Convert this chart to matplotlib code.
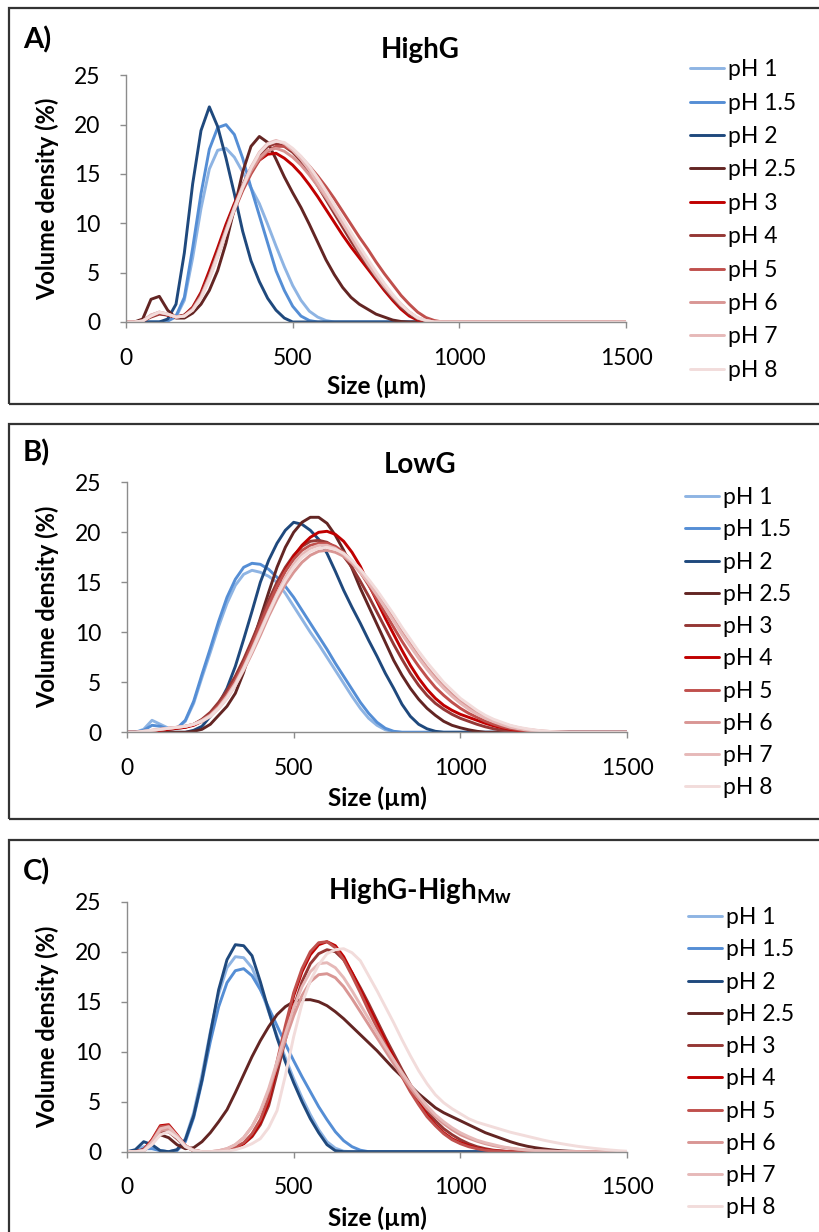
"""
Distribuicao de tamanho de particula (volume density) por pH
para tres amostras: HighG, LowG e HighG-High Mw.
Gera out.png
"""
import matplotlib
matplotlib.use("Agg")
import matplotlib.pyplot as plt
from matplotlib.patches import Rectangle

plt.rcParams["font.family"] = ["Lato", "DejaVu Sans"]
plt.rcParams["mathtext.fontset"] = "custom"
plt.rcParams["mathtext.rm"] = "Lato:bold"
plt.rcParams["mathtext.bf"] = "Lato:bold"

# grade de tamanho (um)
SIZE_UM = [0, 25, 50, 75, 100, 125, 150, 175, 200, 225,
           250, 275, 300, 325, 350, 375, 400, 425, 450, 475,
           500, 525, 550, 575, 600, 625, 650, 675, 700, 725,
           750, 775, 800, 825, 850, 875, 900, 925, 950, 975,
           1000, 1025, 1050, 1075, 1100, 1125, 1150, 1175, 1200, 1225,
           1250, 1275, 1300, 1325, 1350, 1375, 1400, 1425, 1450, 1475,
           1500]

PH_LABELS = ["pH 1", "pH 1.5", "pH 2", "pH 2.5", "pH 3",
             "pH 4", "pH 5", "pH 6", "pH 7", "pH 8"]

# cores (no painel A pH 3 e pH 4 estao trocados)
COLORS_A = ["#8EB4E3", "#558ED5", "#1F497D", "#632523", "#C00000",
            "#953735", "#C0504D", "#D99694", "#E6B9B8", "#F2DCDB"]
COLORS_BC = ["#8EB4E3", "#558ED5", "#1F497D", "#632523", "#953735",
             "#C00000", "#C0504D", "#D99694", "#E6B9B8", "#F2DCDB"]

# ---------------- A) HighG ----------------
A_PH1 = [0, 0, 0, 0, 0, 0.1, 0.5, 2.2, 6.5, 11.5,
         15.5, 17.4, 17.6, 16.7, 15.2, 13.6, 12.0, 9.9, 7.7, 5.6,
         3.7, 2.2, 1.1, 0.5, 0.15, 0, 0, 0, 0, 0,
         0, 0, 0, 0, 0, 0, 0, 0, 0, 0,
         0, 0, 0, 0, 0, 0, 0, 0, 0, 0,
         0, 0, 0, 0, 0, 0, 0, 0, 0, 0,
         0]
A_PH15 = [0, 0, 0, 0, 0, 0.1, 0.6, 2.5, 7.5, 13.0,
          17.5, 19.7, 20.0, 19.0, 16.6, 13.6, 10.8, 8.0, 5.2, 3.2,
          1.6, 0.6, 0.15, 0, 0, 0, 0, 0, 0, 0,
          0, 0, 0, 0, 0, 0, 0, 0, 0, 0,
          0, 0, 0, 0, 0, 0, 0, 0, 0, 0,
          0, 0, 0, 0, 0, 0, 0, 0, 0, 0,
          0]
A_PH2 = [0, 0, 0, 0, 0, 0.3, 1.8, 7.0, 14.0, 19.4,
         21.8, 19.8, 16.6, 13.0, 9.2, 6.2, 4.1, 2.4, 1.2, 0.4,
         0, 0, 0, 0, 0, 0, 0, 0, 0, 0,
         0, 0, 0, 0, 0, 0, 0, 0, 0, 0,
         0, 0, 0, 0, 0, 0, 0, 0, 0, 0,
         0, 0, 0, 0, 0, 0, 0, 0, 0, 0,
         0]
A_PH25 = [0, 0, 0.3, 2.3, 2.6, 1.2, 0.4, 0.4, 0.9, 1.8,
          3.2, 5.2, 8.0, 11.5, 15.2, 17.8, 18.8, 18.2, 16.5, 14.7,
          13.1, 11.6, 9.9, 8.1, 6.3, 4.8, 3.5, 2.5, 1.8, 1.3,
          0.8, 0.5, 0.2, 0.05, 0, 0, 0, 0, 0, 0,
          0, 0, 0, 0, 0, 0, 0, 0, 0, 0,
          0, 0, 0, 0, 0, 0, 0, 0, 0, 0,
          0]
A_PH3 = [0, 0, 0.1, 0.6, 0.9, 0.7, 0.5, 0.7, 1.5, 3.0,
         5.2, 7.5, 9.9, 12.0, 13.8, 15.3, 16.4, 17.0, 17.1, 16.6,
         15.9, 15.0, 13.9, 12.7, 11.4, 10.1, 8.8, 7.6, 6.5, 5.4,
         4.3, 3.2, 2.2, 1.3, 0.6, 0.2, 0.05, 0, 0, 0,
         0, 0, 0, 0, 0, 0, 0, 0, 0, 0,
         0, 0, 0, 0, 0, 0, 0, 0, 0, 0,
         0]
A_PH4 = [0, 0, 0.1, 0.5, 0.8, 0.7, 0.5, 0.7, 1.4, 2.8,
         4.8, 7.1, 9.5, 11.8, 13.9, 15.6, 16.9, 17.8, 18.1, 17.8,
         17.2, 16.3, 15.1, 13.8, 12.4, 11.0, 9.6, 8.2, 6.9, 5.7,
         4.5, 3.4, 2.4, 1.5, 0.8, 0.3, 0.1, 0, 0, 0,
         0, 0, 0, 0, 0, 0, 0, 0, 0, 0,
         0, 0, 0, 0, 0, 0, 0, 0, 0, 0,
         0]
A_PH5 = [0, 0, 0.1, 0.6, 0.9, 0.8, 0.5, 0.6, 1.3, 2.6,
         4.5, 6.7, 9.0, 11.3, 13.3, 15.0, 16.4, 17.3, 17.8, 17.8,
         17.4, 16.7, 15.8, 14.8, 13.7, 12.5, 11.2, 9.9, 8.6, 7.4,
         6.1, 4.9, 3.8, 2.7, 1.8, 1.0, 0.45, 0.15, 0, 0,
         0, 0, 0, 0, 0, 0, 0, 0, 0, 0,
         0, 0, 0, 0, 0, 0, 0, 0, 0, 0,
         0]
A_PH6 = [0, 0, 0.1, 0.7, 1.0, 0.8, 0.5, 0.6, 1.3, 2.6,
         4.6, 6.9, 9.3, 11.6, 13.6, 15.3, 16.6, 17.4, 17.6, 17.3,
         16.7, 15.9, 14.9, 13.8, 12.6, 11.3, 10.0, 8.7, 7.4, 6.2,
         5.0, 3.8, 2.7, 1.8, 1.0, 0.4, 0.15, 0, 0, 0,
         0, 0, 0, 0, 0, 0, 0, 0, 0, 0,
         0, 0, 0, 0, 0, 0, 0, 0, 0, 0,
         0]
A_PH7 = [0, 0, 0.1, 0.7, 1.0, 0.8, 0.5, 0.6, 1.2, 2.5,
         4.5, 6.8, 9.2, 11.6, 13.8, 15.7, 17.2, 18.1, 18.4, 18.1,
         17.4, 16.5, 15.4, 14.1, 12.8, 11.4, 10.0, 8.6, 7.2, 5.9,
         4.7, 3.6, 2.6, 1.7, 1.0, 0.4, 0.15, 0, 0, 0,
         0, 0, 0, 0, 0, 0, 0, 0, 0, 0,
         0, 0, 0, 0, 0, 0, 0, 0, 0, 0,
         0]
A_PH8 = [0, 0, 0.1, 0.6, 1.0, 0.8, 0.5, 0.6, 1.2, 2.4,
         4.3, 6.6, 9.0, 11.4, 13.6, 15.6, 17.1, 18.0, 18.3, 18.2,
         17.6, 16.8, 15.8, 14.6, 13.3, 11.9, 10.5, 9.1, 7.7, 6.4,
         5.1, 3.9, 2.8, 1.8, 1.0, 0.45, 0.15, 0, 0, 0,
         0, 0, 0, 0, 0, 0, 0, 0, 0, 0,
         0, 0, 0, 0, 0, 0, 0, 0, 0, 0,
         0]

# ---------------- B) LowG ----------------
B_PH1 = [0, 0, 0.3, 1.2, 0.8, 0.4, 0.4, 1.1, 2.9, 5.5,
         8.0, 10.6, 12.9, 14.7, 15.8, 16.2, 16.0, 15.6, 15.0, 13.9,
         12.6, 11.3, 10.0, 8.8, 7.5, 6.2, 4.9, 3.6, 2.4, 1.4,
         0.7, 0.25, 0.05, 0, 0, 0, 0, 0, 0, 0,
         0, 0, 0, 0, 0, 0, 0, 0, 0, 0,
         0, 0, 0, 0, 0, 0, 0, 0, 0, 0,
         0]
B_PH15 = [0, 0, 0.2, 0.7, 0.6, 0.3, 0.4, 1.2, 3.1, 5.8,
          8.4, 11.1, 13.5, 15.3, 16.5, 16.9, 16.8, 16.3, 15.5, 14.6,
          13.5, 12.2, 10.9, 9.6, 8.3, 6.9, 5.6, 4.3, 3.0, 1.9,
          1.0, 0.4, 0.1, 0, 0, 0, 0, 0, 0, 0,
          0, 0, 0, 0, 0, 0, 0, 0, 0, 0,
          0, 0, 0, 0, 0, 0, 0, 0, 0, 0,
          0]
B_PH2 = [0, 0, 0, 0, 0, 0, 0, 0, 0.2, 0.6,
         1.6, 2.8, 4.4, 6.6, 9.3, 12.1, 15.0, 17.2, 18.9, 20.2,
         21.0, 20.8, 20.2, 19.3, 17.9, 16.1, 14.2, 12.5, 10.9, 9.2,
         7.6, 5.9, 4.4, 2.8, 1.6, 0.8, 0.35, 0.1, 0, 0,
         0, 0, 0, 0, 0, 0, 0, 0, 0, 0,
         0, 0, 0, 0, 0, 0, 0, 0, 0, 0,
         0]
B_PH25 = [0, 0, 0, 0, 0, 0, 0, 0, 0.1, 0.3,
          0.8, 1.7, 2.6, 3.9, 6.0, 8.8, 11.4, 14.0, 16.5, 18.5,
          20.0, 21.0, 21.5, 21.5, 20.9, 19.7, 18.2, 16.4, 14.4, 12.6,
          10.8, 9.0, 7.2, 5.7, 4.4, 3.3, 2.4, 1.7, 1.1, 0.7,
          0.45, 0.25, 0.1, 0, 0, 0, 0, 0, 0, 0,
          0, 0, 0, 0, 0, 0, 0, 0, 0, 0,
          0]
B_PH3 = [0, 0, 0, 0.1, 0.2, 0.3, 0.4, 0.5, 0.8, 1.3,
         2.0, 3.0, 4.2, 5.6, 7.3, 9.2, 11.2, 13.2, 15.0, 16.5,
         17.7, 18.6, 19.1, 19.2, 19.0, 18.5, 17.6, 16.5, 15.1, 13.6,
         12.0, 10.4, 8.8, 7.3, 5.9, 4.7, 3.7, 2.9, 2.3, 1.8,
         1.4, 1.1, 0.8, 0.55, 0.35, 0.2, 0.1, 0.04, 0, 0,
         0, 0, 0, 0, 0, 0, 0, 0, 0, 0,
         0]
B_PH4 = [0, 0, 0, 0.1, 0.2, 0.3, 0.4, 0.5, 0.7, 1.1,
         1.7, 2.6, 3.6, 4.8, 6.4, 8.3, 10.3, 12.4, 14.5, 16.2,
         17.6, 18.7, 19.5, 20.0, 20.1, 19.8, 19.1, 18.0, 16.6, 14.8,
         13.1, 11.4, 9.8, 8.2, 6.7, 5.4, 4.3, 3.4, 2.7, 2.2,
         1.8, 1.5, 1.2, 0.9, 0.65, 0.45, 0.3, 0.18, 0.1, 0.05,
         0, 0, 0, 0, 0, 0, 0, 0, 0, 0,
         0]
B_PH5 = [0, 0, 0, 0.1, 0.3, 0.4, 0.5, 0.6, 0.8, 1.2,
         1.8, 2.7, 3.8, 5.2, 6.9, 8.8, 10.8, 12.8, 14.6, 16.1,
         17.3, 18.2, 18.7, 18.9, 18.9, 18.6, 18.0, 17.1, 16.0, 14.7,
         13.3, 11.9, 10.5, 9.1, 7.8, 6.6, 5.5, 4.5, 3.7, 3.0,
         2.4, 1.9, 1.5, 1.1, 0.8, 0.55, 0.38, 0.25, 0.15, 0.08,
         0.04, 0, 0, 0, 0, 0, 0, 0, 0, 0,
         0]
B_PH6 = [0, 0, 0.1, 0.2, 0.3, 0.4, 0.5, 0.6, 0.8, 1.1,
         1.6, 2.4, 3.4, 4.7, 6.2, 7.9, 9.7, 11.6, 13.3, 14.8,
         16.0, 17.0, 17.7, 18.1, 18.2, 18.0, 17.6, 16.9, 16.0, 15.0,
         13.8, 12.6, 11.3, 10.0, 8.8, 7.6, 6.5, 5.5, 4.6, 3.8,
         3.1, 2.5, 2.0, 1.55, 1.2, 0.9, 0.65, 0.45, 0.3, 0.2,
         0.12, 0.07, 0.03, 0, 0, 0, 0, 0, 0, 0,
         0]
B_PH7 = [0, 0, 0.1, 0.2, 0.3, 0.4, 0.5, 0.6, 0.8, 1.2,
         1.7, 2.5, 3.6, 4.9, 6.5, 8.3, 10.2, 12.1, 13.9, 15.5,
         16.8, 17.8, 18.4, 18.7, 18.7, 18.4, 17.8, 17.0, 16.0, 14.9,
         13.7, 12.4, 11.1, 9.8, 8.6, 7.4, 6.3, 5.3, 4.4, 3.6,
         2.9, 2.3, 1.8, 1.4, 1.05, 0.75, 0.5, 0.35, 0.22, 0.13,
         0.07, 0.03, 0, 0, 0, 0, 0, 0, 0, 0,
         0]
B_PH8 = [0, 0, 0.1, 0.2, 0.3, 0.4, 0.5, 0.6, 0.8, 1.1,
         1.6, 2.4, 3.4, 4.7, 6.3, 8.1, 10.0, 11.9, 13.7, 15.2,
         16.5, 17.5, 18.1, 18.4, 18.5, 18.3, 17.9, 17.2, 16.3, 15.3,
         14.2, 13.0, 11.8, 10.5, 9.3, 8.1, 7.0, 6.0, 5.0, 4.2,
         3.4, 2.8, 2.2, 1.7, 1.3, 1.0, 0.7, 0.5, 0.35, 0.22,
         0.13, 0.07, 0.03, 0, 0, 0, 0, 0, 0, 0,
         0]

# ---------------- C) HighG-High Mw ----------------
C_PH1 = [0, 0.1, 0.5, 0.4, 0.1, 0, 0.2, 1.3, 3.9, 7.7,
         12.0, 15.8, 18.4, 19.5, 19.4, 18.4, 16.4, 14.0, 11.6, 9.4,
         7.3, 5.4, 3.7, 2.2, 1.0, 0.35, 0.05, 0, 0, 0,
         0, 0, 0, 0, 0, 0, 0, 0, 0, 0,
         0, 0, 0, 0, 0, 0, 0, 0, 0, 0,
         0, 0, 0, 0, 0, 0, 0, 0, 0, 0,
         0]
C_PH15 = [0, 0, 0.3, 0.3, 0.1, 0, 0.1, 1.0, 3.4, 7.0,
          11.0, 14.5, 16.9, 18.1, 18.3, 17.6, 16.2, 14.4, 12.6, 10.8,
          9.1, 7.5, 6.0, 4.5, 3.2, 2.0, 1.1, 0.5, 0.15, 0,
          0, 0, 0, 0, 0, 0, 0, 0, 0, 0,
          0, 0, 0, 0, 0, 0, 0, 0, 0, 0,
          0, 0, 0, 0, 0, 0, 0, 0, 0, 0,
          0]
C_PH2 = [0, 0.2, 1.0, 0.7, 0.1, 0, 0.2, 1.2, 3.6, 7.2,
         11.8, 16.2, 19.2, 20.7, 20.6, 19.6, 17.0, 14.1, 11.4, 9.0,
         6.9, 5.0, 3.3, 1.9, 0.7, 0.1, 0, 0, 0, 0,
         0, 0, 0, 0, 0, 0, 0, 0, 0, 0,
         0, 0, 0, 0, 0, 0, 0, 0, 0, 0,
         0, 0, 0, 0, 0, 0, 0, 0, 0, 0,
         0]
C_PH25 = [0, 0, 0.2, 1.0, 1.7, 1.4, 0.7, 0.3, 0.4, 1.0,
          1.9, 3.0, 4.2, 5.9, 7.7, 9.5, 11.1, 12.5, 13.7, 14.5,
          15.0, 15.2, 15.2, 15.0, 14.6, 14.0, 13.3, 12.5, 11.7, 10.9,
          10.1, 9.2, 8.3, 7.5, 6.6, 5.8, 5.1, 4.4, 3.9, 3.5,
          3.1, 2.7, 2.3, 1.9, 1.6, 1.3, 1.0, 0.75, 0.55, 0.4,
          0.28, 0.18, 0.1, 0.05, 0.02, 0, 0, 0, 0, 0,
          0]
C_PH3 = [0, 0, 0.1, 0.8, 1.9, 2.0, 1.3, 0.5, 0.1, 0,
         0, 0, 0.1, 0.35, 0.8, 1.5, 2.7, 4.6, 7.8, 11.2,
         14.4, 17.0, 18.8, 19.8, 20.2, 20.0, 19.2, 17.9, 16.4, 14.8,
         13.1, 11.4, 9.8, 8.2, 6.7, 5.3, 4.1, 3.1, 2.3, 1.7,
         1.2, 0.8, 0.5, 0.3, 0.15, 0.07, 0, 0, 0, 0,
         0, 0, 0, 0, 0, 0, 0, 0, 0, 0,
         0]
C_PH4 = [0, 0, 0.2, 1.2, 2.6, 2.7, 1.7, 0.6, 0.1, 0,
         0, 0, 0.15, 0.4, 0.8, 1.6, 2.9, 5.0, 8.6, 12.2,
         15.6, 18.0, 19.7, 20.7, 21.0, 20.6, 19.5, 17.9, 16.2, 14.5,
         12.8, 11.1, 9.4, 7.8, 6.3, 4.9, 3.7, 2.7, 1.9, 1.3,
         0.9, 0.6, 0.35, 0.2, 0.1, 0.05, 0, 0, 0, 0,
         0, 0, 0, 0, 0, 0, 0, 0, 0, 0,
         0]
C_PH5 = [0, 0, 0.2, 1.1, 2.5, 2.6, 1.6, 0.6, 0.1, 0,
         0, 0, 0.15, 0.45, 0.9, 1.8, 3.2, 5.4, 9.0, 12.6,
         15.9, 18.3, 20.0, 20.9, 21.0, 20.4, 19.2, 17.6, 15.9, 14.1,
         12.4, 10.7, 9.0, 7.5, 6.0, 4.7, 3.5, 2.6, 1.8, 1.2,
         0.8, 0.5, 0.3, 0.15, 0.07, 0, 0, 0, 0, 0,
         0, 0, 0, 0, 0, 0, 0, 0, 0, 0,
         0]
C_PH6 = [0, 0, 0.1, 0.9, 2.1, 2.3, 1.5, 0.6, 0.15, 0,
         0, 0.1, 0.3, 0.7, 1.4, 2.5, 4.0, 6.1, 8.6, 11.2,
         13.6, 15.6, 17.0, 17.7, 17.8, 17.4, 16.5, 15.3, 14.0, 12.7,
         11.4, 10.1, 8.8, 7.6, 6.4, 5.3, 4.3, 3.5, 2.8, 2.2,
         1.7, 1.35, 1.05, 0.8, 0.6, 0.45, 0.33, 0.24, 0.17, 0.12,
         0.08, 0.05, 0.03, 0.02, 0.01, 0, 0, 0, 0, 0,
         0]
C_PH7 = [0, 0, 0.1, 1.0, 2.3, 2.5, 1.6, 0.6, 0.15, 0,
         0, 0.1, 0.3, 0.7, 1.4, 2.5, 4.1, 6.3, 9.0, 11.8,
         14.4, 16.5, 18.0, 18.8, 18.9, 18.4, 17.4, 16.1, 14.7, 13.3,
         11.9, 10.5, 9.2, 7.9, 6.7, 5.6, 4.6, 3.7, 3.0, 2.4,
         1.9, 1.5, 1.15, 0.9, 0.7, 0.5, 0.36, 0.25, 0.17, 0.11,
         0.07, 0.04, 0.02, 0, 0, 0, 0, 0, 0, 0,
         0]
C_PH8 = [0, 0, 0.1, 0.7, 1.7, 2.0, 1.4, 0.5, 0.1, 0,
         0, 0, 0.05, 0.2, 0.45, 0.8, 1.3, 2.4, 4.1, 7.6,
         11.5, 14.8, 17.1, 18.7, 19.8, 20.2, 20.3, 19.9, 19.1, 17.6,
         16.1, 14.5, 12.9, 11.2, 9.6, 8.1, 6.8, 5.7, 4.9, 4.3,
         3.8, 3.3, 2.95, 2.7, 2.45, 2.2, 1.95, 1.75, 1.55, 1.35,
         1.15, 0.98, 0.82, 0.68, 0.55, 0.44, 0.34, 0.25, 0.17, 0.1,
         0.05]

PANELS = [
    ("A)", "HighG", COLORS_A,
     [A_PH1, A_PH15, A_PH2, A_PH25, A_PH3, A_PH4, A_PH5, A_PH6, A_PH7, A_PH8]),
    ("B)", "LowG", COLORS_BC,
     [B_PH1, B_PH15, B_PH2, B_PH25, B_PH3, B_PH4, B_PH5, B_PH6, B_PH7, B_PH8]),
    ("C)", r"HighG-High$_{\mathrm{Mw}}$", COLORS_BC,
     [C_PH1, C_PH15, C_PH2, C_PH25, C_PH3, C_PH4, C_PH5, C_PH6, C_PH7, C_PH8]),
]

W, H = 820.0, 1232.0
# posicoes em pixels (topo da imagem = 0)
AX_BOX = [(126, 75.3, 626, 322.0), (127, 482.3, 627, 732.3), (127, 901.7, 627, 1151.7)]
FRAMES = [(9, 8, 404), (9, 424, 819), (9, 840, 1245)]
TAG_Y = [48, 461, 880]
TITLE_Y = [58, 473, 899]
LEG_Y = [(220, 0.54), (642.8, 0.49), (1062.8, 0.49)]
LEG_X = [690, 685, 688]
XLAB_Y = [386, 798, 1218]

fig = plt.figure(figsize=(W / 100, H / 100), dpi=100)

for k, (tag, title, colors, curves) in enumerate(PANELS):
    x0, y0, x1, y1 = AX_BOX[k]
    ax = fig.add_axes([x0 / W, 1 - y1 / H, (x1 - x0) / W, (y1 - y0) / H])

    fl, ft, fb = FRAMES[k]
    fig.patches.append(Rectangle((fl / W, 1 - fb / H), 1.2, (fb - ft) / H,
                                 transform=fig.transFigure, fill=False,
                                 lw=1.6, ec="#333333"))

    for ys, c, lab in zip(curves, colors, PH_LABELS):
        ax.plot(SIZE_UM, ys, color=c, lw=2.1, label=lab, solid_capstyle="round")

    ax.set_xlim(0, 1500)
    ax.set_ylim(0, 25)
    ax.set_xticks([0, 500, 1000, 1500])
    ax.set_yticks([0, 5, 10, 15, 20, 25])
    for s in ["top", "right"]:
        ax.spines[s].set_visible(False)
    for s in ["left", "bottom"]:
        ax.spines[s].set_color("#8C8C8C")
        ax.spines[s].set_linewidth(1.0)
    ax.tick_params(axis="both", direction="out", length=4.5, width=1.0,
                   color="#8C8C8C", labelsize=16.5)
    ax.tick_params(axis="x", pad=14)
    ax.tick_params(axis="y", pad=14)

    cy = (y0 + y1) / 2
    fig.text(47 / W, 1 - cy / H, "Volume density (%)", rotation=90,
             ha="center", va="center", fontsize=17, fontweight="bold")
    fig.text((x0 + x1) / 2 / W, 1 - XLAB_Y[k] / H, "Size (µm)",
             ha="center", va="center", fontsize=17.5, fontweight="bold")
    fig.text(420 / W, 1 - TITLE_Y[k] / H, title, ha="center", va="baseline",
             fontsize=20, fontweight="bold")
    fig.text(23 / W, 1 - TAG_Y[k] / H, tag, ha="left", va="baseline",
             fontsize=21, fontweight="bold")

    ly, lsp = LEG_Y[k]
    ax.legend(loc="center left", bbox_to_anchor=(LEG_X[k] / W, 1 - ly / H),
              bbox_transform=fig.transFigure, frameon=False, fontsize=16.5,
              handlelength=1.5, handletextpad=0.15, labelspacing=lsp,
              borderpad=0, borderaxespad=0)

fig.savefig("out.png", dpi=100)
